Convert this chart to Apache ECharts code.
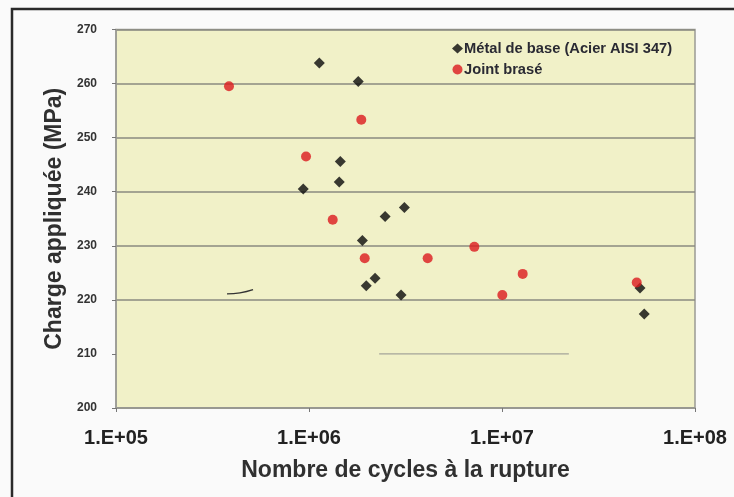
<!DOCTYPE html>
<html>
<head>
<meta charset="utf-8">
<script src="https://cdn.jsdelivr.net/npm/echarts@6/dist/echarts.min.js"></script>
<style>
  html, body { margin: 0; padding: 0; background: #fafafa; }
  #chart { width: 734px; height: 497px; }
</style>
</head>
<body>
<div id="chart"></div>
<script>
// Fatigue results: cycles to failure vs applied stress
const metalCycles = [1.131e6, 1.80e6, 1.453e6, 1.435e6, 9.34e5, 3.12e6, 2.48e6, 1.89e6, 2.20e6, 1.98e6, 3.0e6, 5.19e7, 5.46e7];
const metalStress = [263.8, 260.4, 245.6, 241.8, 240.5, 237.1, 235.4, 231.0, 224.0, 222.6, 220.9, 222.2, 217.4];

const jointCycles = [3.85e5, 1.866e6, 9.65e5, 1.327e6, 1.944e6, 4.12e6, 7.19e6, 1.28e7, 1.004e7, 4.99e7];
const jointStress = [259.5, 253.3, 246.5, 234.8, 227.7, 227.7, 229.8, 224.8, 220.9, 223.2];

// Stray pen stroke near 221 MPa and leftover 210 MPa rule segment
const strokeCycles = [3.76e5, 4.39e5, 5.13e5];
const strokeStress = [221.1, 221.3, 221.9];
const rule210Cycles = [2.31e6, 2.22e7];
const rule210Stress = [210, 210];

const seriesNames = ['Métal de base (Acier AISI 347)', 'Joint brasé'];
const yTicks = [200, 210, 220, 230, 240, 250, 260, 270];
const xTicks = [1e5, 1e6, 1e7, 1e8];

const zip = (xs, ys) => xs.map((x, i) => [x, ys[i]]);

const chart = echarts.init(document.getElementById('chart'));
const gridColors = yTicks.map(v => (v === 210 ? 'rgba(0,0,0,0)' : '#8a8a80'));

chart.setOption({
  backgroundColor: '#fafafa',
  animation: false,
  textStyle: { fontFamily: 'Liberation Sans, Arial, sans-serif' },
  graphic: [{
    type: 'rect',
    shape: { x: 12, y: 9, width: 760, height: 520 },
    style: { fill: 'none', stroke: '#2a2a2a', lineWidth: 2.5 },
    silent: true
  }],
  grid: {
    left: 116, right: 39, top: 29.5, bottom: 89,
    show: true,
    backgroundColor: '#F1F1C8',
    borderColor: '#9a9a94',
    borderWidth: 1.5
  },
  legend: {
    orient: 'vertical',
    left: 447, top: 36,
    itemWidth: 11, itemHeight: 10, itemGap: 6,
    data: [
      { name: seriesNames[0], icon: 'diamond' },
      { name: seriesNames[1], icon: 'circle' }
    ],
    textStyle: { fontSize: 14.7, fontWeight: 'bold', color: '#2a2a33', padding: [0, 0, 0, -4] }
  },
  xAxis: {
    type: 'log', logBase: 10, min: xTicks[0], max: xTicks[xTicks.length - 1],
    name: 'Nombre de cycles à la rupture',
    nameLocation: 'middle', nameGap: 51,
    nameTextStyle: { fontSize: 23, fontWeight: 'bold', color: '#303030' },
    axisLine: { show: true, lineStyle: { color: '#9a9a94', width: 1.5 } },
    axisTick: { show: true, length: 4, lineStyle: { color: '#777' } },
    axisLabel: {
      fontSize: 20, fontWeight: 'bold', color: '#222', margin: 20,
      formatter: v => '1.E+' + String(Math.round(Math.log10(v))).padStart(2, '0')
    },
    splitLine: { show: false },
    minorTick: { show: false }
  },
  yAxis: {
    type: 'value', min: yTicks[0], max: yTicks[yTicks.length - 1], interval: 10,
    name: 'Charge appliquée (MPa)',
    nameLocation: 'middle', nameGap: 49.5,
    nameTextStyle: { fontSize: 23, fontWeight: 'bold', color: '#303030' },
    axisLine: { show: true, lineStyle: { color: '#9a9a94', width: 1.5 } },
    axisTick: { show: true, length: 4, lineStyle: { color: '#777' } },
    axisLabel: { fontSize: 12, fontWeight: 'bold', color: '#333', margin: 19 },
    splitLine: { show: true, lineStyle: { color: gridColors, width: 1.5 } }
  },
  series: [
    {
      name: seriesNames[0], type: 'scatter', symbol: 'diamond', symbolSize: 11,
      itemStyle: { color: '#0a0a0a' },
      data: zip(metalCycles, metalStress), z: 3
    },
    {
      name: seriesNames[1], type: 'scatter', symbol: 'circle', symbolSize: 10,
      itemStyle: { color: '#dc1a1e' },
      data: zip(jointCycles, jointStress), z: 4
    },
    {
      type: 'line', silent: true, symbol: 'none', smooth: true,
      lineStyle: { color: '#333', width: 1.3 },
      data: zip(strokeCycles, strokeStress), z: 2
    },
    {
      type: 'line', silent: true, symbol: 'none',
      lineStyle: { color: '#a4a49a', width: 1.3 },
      data: zip(rule210Cycles, rule210Stress), z: 1
    }
  ]
});
</script>
</body>
</html>
